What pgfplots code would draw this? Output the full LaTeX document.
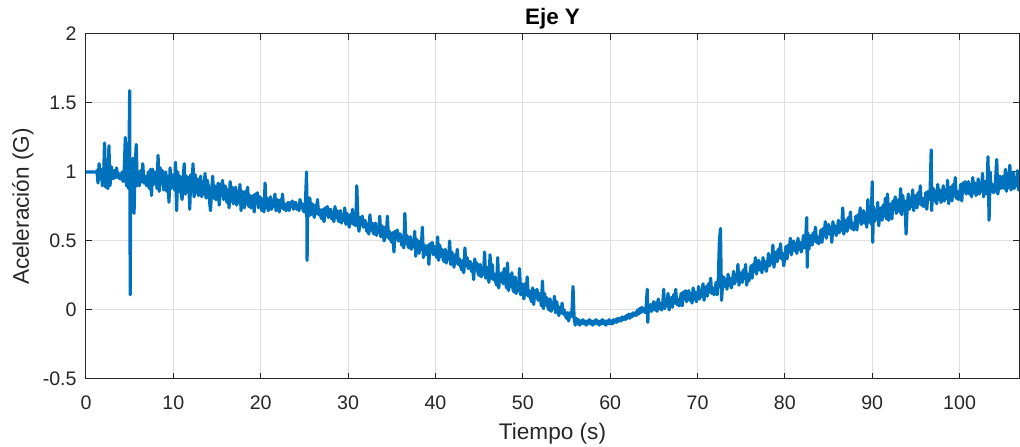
\documentclass[border=0pt]{standalone}
\usepackage{pgfplots}
\pgfplotsset{compat=1.18}
\usepackage{fontspec}
\setmainfont{Liberation Sans}

\definecolor{mblue}{RGB}{0,114,189}
\definecolor{axgray}{RGB}{38,38,38}
\definecolor{gridgray}{RGB}{224,224,224}

\begin{document}
\begin{tikzpicture}
\begin{axis}[
    scale only axis,
    width=466.5pt, height=172.5pt,
    xmin=0, xmax=106.8, ymin=-0.5, ymax=2,
    xtick={0,10,...,100},
    ytick={-0.5,0,0.5,1,1.5,2},
    yticklabels={-0.5,0,0.5,1,1.5,2},
    tick align=inside, tick pos=both,
    major tick length=2.8pt,
    grid=major,
    grid style={gridgray, line width=0.5pt},
    axis line style={axgray, line width=0.5pt},
    tick style={axgray, line width=0.5pt},
    /pgf/number format/assume math mode=true,
    every tick label/.append style={font=\fontsize{9.8}{11}\selectfont, text=axgray},
    xticklabel style={anchor=base, yshift=-15.5pt},
    yticklabel style={anchor=east, xshift=-1.2pt},
    every axis title shift=0pt,
    title={Eje Y},
    title style={font=\fontsize{11.2}{13}\selectfont\bfseries,
        at={(axis description cs:0.5,1)}, anchor=center, yshift=7.5pt},
    xlabel={Tiempo (s)},
    ylabel={Aceleración (G)},
    label style={font=\fontsize{11.3}{13}\selectfont, text=axgray},
    xlabel style={at={(axis description cs:0.5,0)}, anchor=center, yshift=-27.5pt},
    ylabel style={at={(axis description cs:0,0.5)}, anchor=center, yshift=31.5pt},
]
\addplot[mblue, line width=1.6pt, line join=round, no marks] coordinates {
(0,1.00) (1.2,1.00)
(1.25,1.01) (1.375,0.92) (1.5,1.06) (1.625,0.95) (1.75,1.02) (1.875,0.90)
(2.0,0.94) (2.125,1.21) (2.25,0.89) (2.375,1.01) (2.5,0.88) (2.625,1.19) (2.75,0.90) (2.875,1.04)
(3.0,1.00) (3.125,0.95) (3.25,1.01) (3.375,0.96) (3.5,1.03) (3.625,0.96) (3.75,0.99) (3.875,0.95)
(4.0,0.95) (4.125,1.00) (4.25,0.93) (4.375,1.01) (4.5,1.25) (4.625,0.90) (4.75,1.04) (4.875,0.88)
(5.0,1.59) (5.06,0.11) (5.125,1.06) (5.25,0.85) (5.375,1.10) (5.5,0.70) (5.625,1.03) (5.75,1.20) (5.875,0.90)
(6.0,0.99) (6.125,0.90) (6.25,1.01) (6.375,0.93) (6.5,1.06) (6.625,0.92) (6.75,0.97) (6.875,0.91)
(7.0,0.90) (7.125,1.00) (7.25,0.88) (7.375,1.02) (7.5,0.83) (7.625,1.02) (7.75,0.91) (7.875,0.99)
(8.0,1.00) (8.125,0.88) (8.25,1.12) (8.375,0.86) (8.5,1.03) (8.625,0.92) (8.75,1.01) (8.875,0.87)
(9.0,0.90) (9.125,1.00) (9.25,0.86) (9.375,0.97) (9.5,0.78) (9.625,1.03) (9.75,0.88) (9.875,0.98)
(10.0,0.96) (10.125,0.87) (10.25,1.07) (10.375,0.72) (10.5,1.00) (10.625,0.86) (10.75,0.97) (10.875,0.85)
(11.0,0.80) (11.125,0.96) (11.25,1.06) (11.375,0.84) (11.5,0.97) (11.625,0.86) (11.75,0.96) (11.875,0.73)
(12.0,0.98) (12.125,0.86) (12.25,1.06) (12.375,0.82) (12.5,0.98) (12.625,0.85) (12.75,0.95) (12.875,0.83)
(13.0,0.85) (13.125,0.97) (13.25,0.82) (13.375,0.93) (13.5,0.84) (13.625,0.99) (13.75,0.81) (13.875,0.94)
(14.0,0.90) (14.125,0.80) (14.25,0.72) (14.375,0.86) (14.5,0.97) (14.625,0.81) (14.75,0.90) (14.875,0.80)
(15.0,0.81) (15.125,0.92) (15.25,0.76) (15.375,0.91) (15.5,0.83) (15.625,0.94) (15.75,0.80) (15.875,0.90)
(16.0,0.89) (16.125,0.78) (16.25,0.87) (16.375,0.74) (16.5,0.93) (16.625,0.79) (16.75,0.89) (16.875,0.77)
(17.0,0.79) (17.125,0.89) (17.25,0.76) (17.375,0.86) (17.5,0.78) (17.625,0.91) (17.75,0.72) (17.875,0.86)
(18.0,0.83) (18.125,0.74) (18.25,0.86) (18.375,0.77) (18.5,0.89) (18.625,0.75) (18.75,0.83) (18.875,0.74)
(19.0,0.75) (19.125,0.83) (19.25,0.71) (19.375,0.84) (19.5,0.77) (19.625,0.85) (19.75,0.74) (19.875,0.82)
(20.0,0.81) (20.125,0.72) (20.25,0.80) (20.375,0.71) (20.5,0.92) (20.625,0.74) (20.75,0.81) (20.875,0.72)
(21.0,0.74) (21.125,0.82) (21.25,0.73) (21.375,0.79) (21.5,0.75) (21.625,0.84) (21.75,0.72) (21.875,0.80)
(22.0,0.78) (22.125,0.71) (22.25,0.80) (22.375,0.74) (22.5,0.84) (22.625,0.73) (22.75,0.77) (22.875,0.72)
(23.0,0.73) (23.125,0.78) (23.25,0.72) (23.375,0.78) (23.5,0.75) (23.625,0.79) (23.75,0.73) (23.875,0.77)
(24.0,0.78) (24.125,0.73) (24.25,0.76) (24.375,0.72) (24.5,0.80) (24.625,0.74) (24.75,0.77) (24.875,0.72)
(25.0,0.71) (25.125,0.79) (25.25,1.00) (25.31,0.36) (25.375,0.82) (25.5,0.68) (25.625,0.81) (25.75,0.69) (25.875,0.77)
(26.0,0.74) (26.125,0.67) (26.25,0.76) (26.375,0.70) (26.5,0.80) (26.625,0.69) (26.75,0.73) (26.875,0.68)
(27.0,0.66) (27.125,0.73) (27.25,0.64) (27.375,0.74) (27.5,0.69) (27.625,0.75) (27.75,0.67) (27.875,0.72)
(28.0,0.73) (28.125,0.66) (28.25,0.71) (28.375,0.64) (28.5,0.75) (28.625,0.67) (28.75,0.72) (28.875,0.65)
(29.0,0.64) (29.125,0.72) (29.25,0.63) (29.375,0.69) (29.5,0.65) (29.625,0.74) (29.75,0.62) (29.875,0.70)
(30.0,0.67) (30.125,0.60) (30.25,0.69) (30.375,0.63) (30.5,0.73) (30.625,0.62) (30.75,0.66) (30.875,0.61)
(31.0,0.90) (31.125,0.65) (31.25,0.57) (31.375,0.67) (31.5,0.62) (31.625,0.68) (31.75,0.60) (31.875,0.65)
(32.0,0.64) (32.125,0.57) (32.25,0.62) (32.375,0.55) (32.5,0.69) (32.625,0.58) (32.75,0.63) (32.875,0.56)
(33.0,0.55) (33.125,0.63) (33.25,0.54) (33.375,0.60) (33.5,0.56) (33.625,0.68) (33.75,0.53) (33.875,0.61)
(34.0,0.58) (34.125,0.50) (34.25,0.60) (34.375,0.53) (34.5,0.68) (34.625,0.52) (34.75,0.57) (34.875,0.51)
(35.0,0.49) (35.125,0.56) (35.25,0.42) (35.375,0.57) (35.5,0.52) (35.625,0.58) (35.75,0.50) (35.875,0.55)
(36.0,0.55) (36.125,0.47) (36.25,0.53) (36.375,0.45) (36.5,0.70) (36.625,0.48) (36.75,0.54) (36.875,0.46)
(37.0,0.45) (37.125,0.53) (37.25,0.44) (37.375,0.50) (37.5,0.46) (37.625,0.57) (37.75,0.39) (37.875,0.51)
(38.0,0.48) (38.125,0.41) (38.25,0.50) (38.375,0.44) (38.5,0.60) (38.625,0.38) (38.75,0.47) (38.875,0.42)
(39.0,0.40) (39.125,0.47) (39.25,0.33) (39.375,0.48) (39.5,0.43) (39.625,0.49) (39.75,0.40) (39.875,0.46)
(40.0,0.45) (40.125,0.38) (40.25,0.53) (40.375,0.36) (40.5,0.47) (40.625,0.39) (40.75,0.44) (40.875,0.37)
(41.0,0.35) (41.125,0.44) (41.25,0.34) (41.375,0.41) (41.5,0.37) (41.625,0.50) (41.75,0.33) (41.875,0.42)
(42.0,0.38) (42.125,0.31) (42.25,0.40) (42.375,0.34) (42.5,0.44) (42.625,0.33) (42.75,0.37) (42.875,0.32)
(43.0,0.29) (43.125,0.36) (43.25,0.27) (43.375,0.45) (43.5,0.32) (43.625,0.38) (43.75,0.30) (43.875,0.35)
(44.0,0.35) (44.125,0.28) (44.25,0.33) (44.375,0.22) (44.5,0.37) (44.625,0.29) (44.75,0.34) (44.875,0.27)
(45.0,0.25) (45.125,0.33) (45.25,0.24) (45.375,0.30) (45.5,0.26) (45.625,0.42) (45.75,0.23) (45.875,0.31)
(46.0,0.27) (46.125,0.20) (46.25,0.40) (46.375,0.23) (46.5,0.33) (46.625,0.22) (46.75,0.26) (46.875,0.21)
(47.0,0.18) (47.125,0.38) (47.25,0.16) (47.375,0.26) (47.5,0.21) (47.625,0.27) (47.75,0.19) (47.875,0.30)
(48.0,0.23) (48.125,0.16) (48.25,0.34) (48.375,0.14) (48.5,0.25) (48.625,0.17) (48.75,0.27) (48.875,0.15)
(49.0,0.13) (49.125,0.24) (49.25,0.12) (49.375,0.18) (49.5,0.14) (49.625,0.30) (49.75,0.11) (49.875,0.19)
(50.0,0.15) (50.125,0.08) (50.25,0.19) (50.375,0.11) (50.5,0.24) (50.625,0.10) (50.75,0.14) (50.875,0.09)
(51.0,0.06) (51.125,0.16) (51.25,0.04) (51.375,0.14) (51.5,0.09) (51.625,0.15) (51.75,0.07) (51.875,0.12)
(52.0,0.10) (52.125,0.03) (52.25,0.21) (52.375,0.01) (52.5,0.12) (52.625,0.04) (52.75,0.09) (52.875,0.02)
(53.0,0.00) (53.125,0.08) (53.25,-0.01) (53.375,0.05) (53.5,0.01) (53.625,0.10) (53.75,-0.02) (53.875,0.06)
(54.0,0.01) (54.125,-0.04) (54.25,0.02) (54.375,-0.02) (54.5,0.05) (54.625,-0.03) (54.75,0.00) (54.875,-0.04)
(55.0,-0.06) (55.125,-0.02) (55.25,-0.08) (55.375,-0.02) (55.5,-0.05) (55.625,-0.01) (55.75,0.17) (55.875,-0.06)
(56.0,-0.11) (56.125,-0.06) (56.25,-0.10) (56.375,-0.07) (56.5,-0.11) (56.625,-0.08) (56.75,-0.10) (56.875,-0.07)
(57.0,-0.10) (57.125,-0.08) (57.25,-0.11) (57.375,-0.08) (57.5,-0.10) (57.625,-0.07) (57.75,-0.10) (57.875,-0.08)
(58.0,-0.11) (58.125,-0.08) (58.25,-0.10) (58.375,-0.07) (58.5,-0.10) (58.625,-0.08) (58.75,-0.11) (58.875,-0.08)
(59.0,-0.10) (59.125,-0.07) (59.25,-0.10) (59.375,-0.08) (59.5,-0.11) (59.625,-0.08) (59.75,-0.10) (59.875,-0.07)
(60.0,-0.10) (60.125,-0.08) (60.25,-0.10) (60.375,-0.07) (60.5,-0.09) (60.625,-0.07) (60.75,-0.09) (60.875,-0.06)
(61.0,-0.08) (61.125,-0.06) (61.25,-0.08) (61.375,-0.05) (61.5,-0.07) (61.625,-0.05) (61.75,-0.07) (61.875,-0.04)
(62.0,-0.06) (62.125,-0.03) (62.25,-0.06) (62.375,-0.03) (62.5,-0.05) (62.625,-0.02) (62.75,-0.04) (62.875,-0.02)
(63.0,-0.04) (63.125,0.00) (63.25,-0.03) (63.375,0.01) (63.5,-0.02) (63.625,0.02) (63.75,-0.01) (63.875,0.01)
(64.0,-0.02) (64.125,0.03) (64.25,0.15) (64.31,-0.09) (64.375,0.02) (64.5,-0.01) (64.625,0.04) (64.75,-0.01) (64.875,0.03)
(65.0,0.06) (65.125,0.00) (65.25,0.05) (65.375,-0.01) (65.5,0.08) (65.625,0.01) (65.75,0.05) (65.875,0.00)
(66.0,0.02) (66.125,0.15) (66.25,0.01) (66.375,0.07) (66.5,0.03) (66.625,0.12) (66.75,0.00) (66.875,0.08)
(67.0,0.09) (67.125,0.02) (67.25,0.11) (67.375,0.05) (67.5,0.15) (67.625,0.04) (67.75,0.08) (67.875,0.03)
(68.0,0.05) (68.125,0.12) (68.25,0.03) (68.375,0.13) (68.5,0.08) (68.625,0.14) (68.75,0.06) (68.875,0.11)
(69.0,0.14) (69.125,0.07) (69.25,0.12) (69.375,0.05) (69.5,0.16) (69.625,0.08) (69.75,0.13) (69.875,0.06)
(70.0,0.09) (70.125,0.17) (70.25,0.08) (70.375,0.14) (70.5,0.10) (70.625,0.19) (70.75,0.07) (70.875,0.15)
(71.0,0.17) (71.125,0.10) (71.25,0.19) (71.375,0.13) (71.5,0.23) (71.625,0.12) (71.75,0.16) (71.875,0.11)
(72.0,0.13) (72.125,0.20) (72.25,0.11) (72.375,0.21) (72.5,0.49) (72.625,0.59) (72.75,0.07) (72.875,0.19)
(73.0,0.24) (73.125,0.17) (73.25,0.22) (73.375,0.15) (73.5,0.26) (73.625,0.18) (73.75,0.23) (73.875,0.16)
(74.0,0.20) (74.125,0.28) (74.25,0.19) (74.375,0.25) (74.5,0.21) (74.625,0.33) (74.75,0.18) (74.875,0.26)
(75.0,0.27) (75.125,0.20) (75.25,0.29) (75.375,0.23) (75.5,0.33) (75.625,0.18) (75.75,0.26) (75.875,0.21)
(76.0,0.25) (76.125,0.32) (76.25,0.23) (76.375,0.33) (76.5,0.28) (76.625,0.38) (76.75,0.26) (76.875,0.31)
(77.0,0.36) (77.125,0.29) (77.25,0.34) (77.375,0.27) (77.5,0.38) (77.625,0.30) (77.75,0.35) (77.875,0.28)
(78.0,0.33) (78.125,0.41) (78.25,0.32) (78.375,0.38) (78.5,0.34) (78.625,0.47) (78.75,0.31) (78.875,0.39)
(79.0,0.42) (79.125,0.35) (79.25,0.44) (79.375,0.38) (79.5,0.48) (79.625,0.37) (79.75,0.41) (79.875,0.32)
(80.0,0.39) (80.125,0.46) (80.25,0.37) (80.375,0.47) (80.5,0.42) (80.625,0.52) (80.75,0.40) (80.875,0.45)
(81.0,0.50) (81.125,0.43) (81.25,0.48) (81.375,0.41) (81.5,0.52) (81.625,0.44) (81.75,0.49) (81.875,0.42)
(82.0,0.46) (82.125,0.54) (82.25,0.45) (82.375,0.51) (82.5,0.67) (82.56,0.31) (82.625,0.56) (82.75,0.44) (82.875,0.52)
(83.0,0.54) (83.125,0.47) (83.25,0.56) (83.375,0.50) (83.5,0.60) (83.625,0.49) (83.75,0.53) (83.875,0.48)
(84.0,0.51) (84.125,0.58) (84.25,0.49) (84.375,0.59) (84.5,0.54) (84.625,0.64) (84.75,0.52) (84.875,0.57)
(85.0,0.62) (85.125,0.55) (85.25,0.60) (85.375,0.49) (85.5,0.64) (85.625,0.56) (85.75,0.61) (85.875,0.54)
(86.0,0.57) (86.125,0.65) (86.25,0.56) (86.375,0.62) (86.5,0.58) (86.625,0.74) (86.75,0.55) (86.875,0.63)
(87.0,0.65) (87.125,0.57) (87.25,0.67) (87.375,0.60) (87.5,0.71) (87.625,0.59) (87.75,0.63) (87.875,0.58)
(88.0,0.60) (88.125,0.68) (88.25,0.58) (88.375,0.69) (88.5,0.64) (88.625,0.74) (88.75,0.62) (88.875,0.67)
(89.0,0.72) (89.125,0.63) (89.25,0.70) (89.375,0.60) (89.5,0.80) (89.625,0.64) (89.75,0.71) (89.875,0.62)
(90.0,0.93) (90.06,0.49) (90.125,0.75) (90.25,0.64) (90.375,0.72) (90.5,0.66) (90.625,0.78) (90.75,0.61) (90.875,0.73)
(91.0,0.74) (91.125,0.65) (91.25,0.76) (91.375,0.68) (91.5,0.81) (91.625,0.66) (91.75,0.84) (91.875,0.65)
(92.0,0.68) (92.125,0.77) (92.25,0.66) (92.375,0.79) (92.5,0.73) (92.625,0.82) (92.75,0.70) (92.875,0.77)
(93.0,0.80) (93.125,0.71) (93.25,0.88) (93.375,0.69) (93.5,0.83) (93.625,0.72) (93.75,0.79) (93.875,0.55)
(94.0,0.74) (94.125,0.84) (94.25,0.73) (94.375,0.81) (94.5,0.75) (94.625,0.87) (94.75,0.72) (94.875,0.82)
(95.0,0.83) (95.125,0.74) (95.25,0.85) (95.375,0.77) (95.5,0.90) (95.625,0.76) (95.75,0.81) (95.875,0.75)
(96.0,0.76) (96.125,0.85) (96.25,0.73) (96.375,0.86) (96.5,0.80) (96.625,0.87) (96.75,1.16) (96.81,0.72) (96.875,0.84)
(97.0,0.88) (97.125,0.79) (97.25,0.86) (97.375,0.77) (97.5,0.91) (97.625,0.80) (97.75,0.87) (97.875,0.78)
(98.0,0.80) (98.125,0.90) (98.25,0.79) (98.375,0.87) (98.5,0.81) (98.625,0.94) (98.75,0.77) (98.875,0.88)
(99.0,0.89) (99.125,0.79) (99.25,0.91) (99.375,0.83) (99.5,0.96) (99.625,0.81) (99.75,0.86) (99.875,0.80)
(100.0,0.82) (100.125,0.91) (100.25,0.79) (100.375,0.92) (100.5,0.86) (100.625,0.93) (100.75,0.84) (100.875,0.90)
(101.0,0.93) (101.125,0.84) (101.25,0.91) (101.375,0.82) (101.5,0.96) (101.625,0.85) (101.75,0.92) (101.875,0.83)
(102.0,0.85) (102.125,0.95) (102.25,0.84) (102.375,0.92) (102.5,0.86) (102.625,0.99) (102.75,0.82) (102.875,0.93)
(103.0,0.93) (103.125,0.84) (103.25,1.11) (103.375,0.65) (103.5,1.00) (103.625,0.86) (103.75,0.91) (103.875,0.85)
(104.0,0.86) (104.125,0.95) (104.25,1.09) (104.375,0.84) (104.5,0.91) (104.625,0.97) (104.75,0.88) (104.875,0.94)
(105.0,0.97) (105.125,0.88) (105.25,1.02) (105.375,0.86) (105.5,0.99) (105.625,0.89) (105.75,1.05) (105.875,0.87)
(106.0,0.89) (106.125,1.00) (106.25,0.88) (106.375,0.96) (106.5,0.90) (106.625,1.01) (106.75,0.87) (106.875,0.95)
};
\coordinate (sw) at (rel axis cs:0,0);
\coordinate (ne) at (rel axis cs:1,1);
\end{axis}
\pgfresetboundingbox
\path[use as bounding box] ([shift={(-43pt,-34pt)}]sw) rectangle ([shift={(0.5pt,17pt)}]ne);
\end{tikzpicture}
\end{document}
